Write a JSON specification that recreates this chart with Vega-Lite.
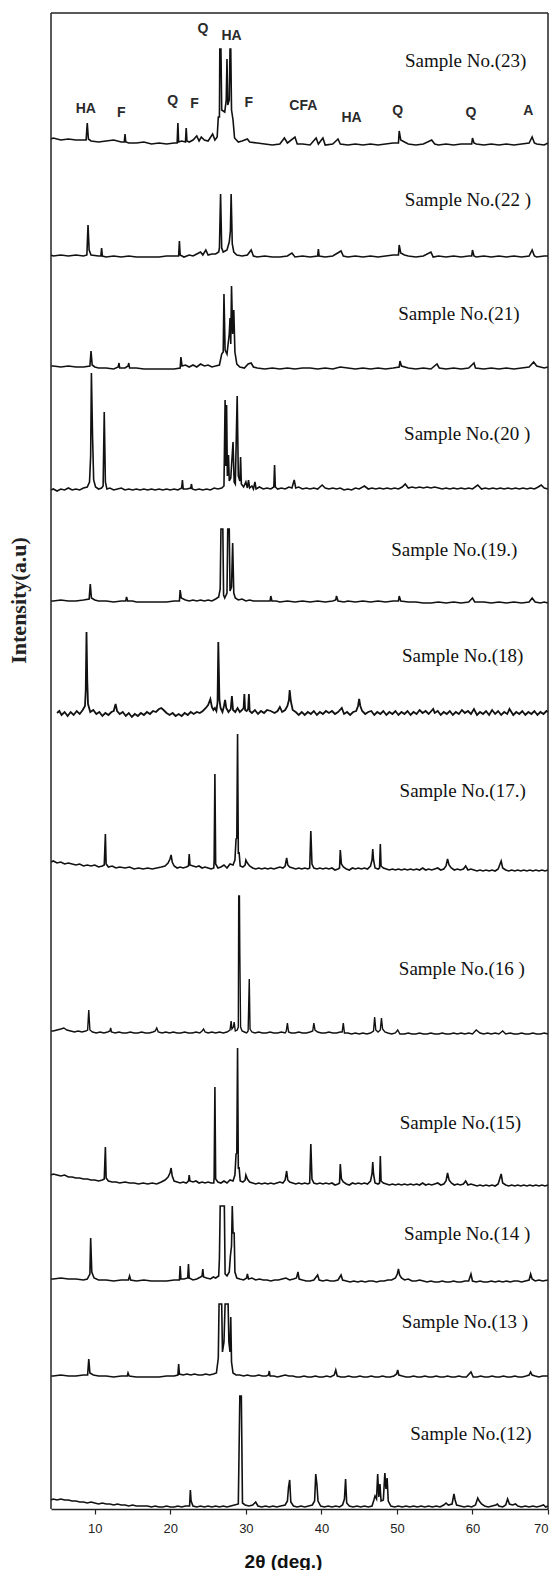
{
"$schema": "https://vega.github.io/schema/vega-lite/v6.json",
"padding": {"left": 7, "top": 12, "right": 2, "bottom": 1},
"spacing": 0,
"bounds": "flush",
"config": {"view": {"stroke": null}, "font": "Liberation Sans", "scale": {"zero": false}},
"datasets": {
"s23": [{"theta":4.2,"I":11},{"theta":4.5,"I":12},{"theta":5.5,"I":10},{"theta":6.5,"I":11},{"theta":7.5,"I":10},{"theta":8.5,"I":10},{"theta":8.85,"I":10},{"theta":9.0,"I":27},{"theta":9.15,"I":11},{"theta":9.5,"I":9},{"theta":10.5,"I":8},{"theta":11.5,"I":9},{"theta":12.5,"I":10},{"theta":13.5,"I":8},{"theta":13.9,"I":8},{"theta":14.0,"I":16},{"theta":14.1,"I":8},{"theta":14.5,"I":7},{"theta":15.5,"I":7},{"theta":16.5,"I":8},{"theta":17.5,"I":6},{"theta":18.5,"I":7},{"theta":19.5,"I":6},{"theta":20.5,"I":7},{"theta":20.9,"I":7},{"theta":21.0,"I":27},{"theta":21.1,"I":8},{"theta":21.5,"I":9},{"theta":22.0,"I":8},{"theta":22.1,"I":22},{"theta":22.2,"I":9},{"theta":22.5,"I":8},{"theta":23.0,"I":10},{"theta":23.5,"I":14},{"theta":23.8,"I":9},{"theta":24.1,"I":13},{"theta":24.5,"I":10},{"theta":25.0,"I":9},{"theta":25.6,"I":16},{"theta":25.9,"I":10},{"theta":26.2,"I":13},{"theta":26.35,"I":33},{"theta":26.5,"I":33},{"theta":26.55,"I":101},{"theta":26.7,"I":101},{"theta":26.8,"I":40},{"theta":27.2,"I":38},{"theta":27.4,"I":50},{"theta":27.5,"I":91},{"theta":27.6,"I":45},{"theta":27.8,"I":50},{"theta":27.9,"I":101},{"theta":28.0,"I":101},{"theta":28.1,"I":40},{"theta":28.3,"I":30},{"theta":28.5,"I":12},{"theta":29.0,"I":8},{"theta":29.5,"I":9},{"theta":30.2,"I":11},{"theta":30.5,"I":8},{"theta":31.5,"I":7},{"theta":32.5,"I":6},{"theta":33.5,"I":5},{"theta":34.5,"I":6},{"theta":35.1,"I":12},{"theta":35.5,"I":7},{"theta":36.5,"I":13},{"theta":36.8,"I":6},{"theta":37.5,"I":6},{"theta":38.5,"I":5},{"theta":39.3,"I":12},{"theta":39.6,"I":6},{"theta":40.2,"I":12},{"theta":40.5,"I":5},{"theta":41.5,"I":6},{"theta":42.2,"I":11},{"theta":42.5,"I":6},{"theta":43.5,"I":5},{"theta":44.5,"I":6},{"theta":45.5,"I":5},{"theta":46.5,"I":6},{"theta":47.5,"I":5},{"theta":48.5,"I":6},{"theta":49.5,"I":7},{"theta":50.2,"I":7},{"theta":50.3,"I":19},{"theta":50.5,"I":10},{"theta":51.0,"I":8},{"theta":51.5,"I":6},{"theta":52.5,"I":5},{"theta":53.5,"I":6},{"theta":54.6,"I":10},{"theta":55.0,"I":6},{"theta":55.5,"I":5},{"theta":56.5,"I":6},{"theta":57.5,"I":5},{"theta":58.5,"I":6},{"theta":59.5,"I":6},{"theta":59.9,"I":6},{"theta":60.0,"I":12},{"theta":60.2,"I":7},{"theta":60.5,"I":6},{"theta":61.5,"I":5},{"theta":62.5,"I":6},{"theta":63.5,"I":5},{"theta":64.5,"I":6},{"theta":65.5,"I":5},{"theta":66.5,"I":6},{"theta":67.5,"I":7},{"theta":67.9,"I":13},{"theta":68.2,"I":7},{"theta":68.5,"I":6},{"theta":69.5,"I":5},{"theta":70.0,"I":7}],
"s22": [{"theta":4.2,"I":7},{"theta":4.5,"I":6},{"theta":5.5,"I":7},{"theta":6.5,"I":6},{"theta":7.5,"I":7},{"theta":8.5,"I":6},{"theta":8.95,"I":7},{"theta":9.1,"I":37},{"theta":9.25,"I":12},{"theta":9.5,"I":7},{"theta":10.5,"I":6},{"theta":10.8,"I":6},{"theta":10.9,"I":14},{"theta":11.0,"I":6},{"theta":11.5,"I":5},{"theta":12.5,"I":6},{"theta":13.5,"I":5},{"theta":14.5,"I":6},{"theta":15.5,"I":5},{"theta":16.5,"I":5},{"theta":17.5,"I":5},{"theta":18.5,"I":5},{"theta":19.5,"I":6},{"theta":20.5,"I":6},{"theta":21.1,"I":6},{"theta":21.2,"I":21},{"theta":21.3,"I":7},{"theta":21.8,"I":5},{"theta":22.5,"I":7},{"theta":23.0,"I":6},{"theta":23.5,"I":8},{"theta":24.0,"I":10},{"theta":24.3,"I":7},{"theta":24.7,"I":12},{"theta":25.0,"I":7},{"theta":25.5,"I":8},{"theta":26.0,"I":8},{"theta":26.4,"I":10},{"theta":26.5,"I":14},{"theta":26.65,"I":68},{"theta":26.8,"I":14},{"theta":27.0,"I":10},{"theta":27.5,"I":12},{"theta":27.8,"I":20},{"theta":27.95,"I":31},{"theta":28.05,"I":68},{"theta":28.2,"I":18},{"theta":28.4,"I":10},{"theta":28.8,"I":7},{"theta":29.5,"I":6},{"theta":30.2,"I":7},{"theta":30.7,"I":12},{"theta":31.0,"I":6},{"theta":31.5,"I":5},{"theta":32.5,"I":6},{"theta":33.5,"I":5},{"theta":34.5,"I":5},{"theta":35.5,"I":6},{"theta":36.1,"I":9},{"theta":36.5,"I":5},{"theta":37.5,"I":6},{"theta":38.5,"I":5},{"theta":39.5,"I":6},{"theta":39.6,"I":13},{"theta":39.7,"I":6},{"theta":40.5,"I":5},{"theta":41.5,"I":6},{"theta":42.6,"I":11},{"theta":42.9,"I":6},{"theta":43.5,"I":5},{"theta":44.5,"I":6},{"theta":45.5,"I":5},{"theta":46.5,"I":6},{"theta":47.5,"I":5},{"theta":48.5,"I":6},{"theta":49.5,"I":7},{"theta":50.2,"I":7},{"theta":50.3,"I":17},{"theta":50.5,"I":9},{"theta":51.0,"I":7},{"theta":51.5,"I":6},{"theta":52.5,"I":5},{"theta":53.5,"I":6},{"theta":54.5,"I":10},{"theta":54.8,"I":5},{"theta":55.5,"I":6},{"theta":56.5,"I":5},{"theta":57.5,"I":6},{"theta":58.5,"I":5},{"theta":59.5,"I":6},{"theta":59.9,"I":6},{"theta":60.0,"I":12},{"theta":60.2,"I":6},{"theta":60.5,"I":5},{"theta":61.5,"I":6},{"theta":62.5,"I":5},{"theta":63.5,"I":6},{"theta":64.5,"I":5},{"theta":65.5,"I":6},{"theta":66.5,"I":5},{"theta":67.5,"I":6},{"theta":67.9,"I":12},{"theta":68.2,"I":6},{"theta":68.5,"I":5},{"theta":69.5,"I":6},{"theta":70.0,"I":6}],
"s21": [{"theta":4.2,"I":8},{"theta":4.5,"I":8},{"theta":5.5,"I":7},{"theta":6.5,"I":8},{"theta":7.5,"I":7},{"theta":8.5,"I":7},{"theta":9.35,"I":8},{"theta":9.5,"I":23},{"theta":9.65,"I":9},{"theta":10.0,"I":7},{"theta":10.5,"I":6},{"theta":11.5,"I":6},{"theta":12.5,"I":5},{"theta":13.1,"I":7},{"theta":13.2,"I":11},{"theta":13.3,"I":6},{"theta":14.0,"I":6},{"theta":14.4,"I":8},{"theta":14.5,"I":11},{"theta":14.6,"I":6},{"theta":15.5,"I":6},{"theta":16.5,"I":5},{"theta":17.5,"I":5},{"theta":18.5,"I":5},{"theta":19.5,"I":5},{"theta":20.5,"I":5},{"theta":21.3,"I":6},{"theta":21.4,"I":17},{"theta":21.55,"I":8},{"theta":22.0,"I":9},{"theta":22.5,"I":7},{"theta":23.0,"I":9},{"theta":23.5,"I":7},{"theta":24.0,"I":10},{"theta":24.5,"I":8},{"theta":25.0,"I":9},{"theta":25.5,"I":7},{"theta":26.0,"I":8},{"theta":26.5,"I":9},{"theta":26.8,"I":20},{"theta":27.0,"I":22},{"theta":27.1,"I":80},{"theta":27.25,"I":24},{"theta":27.5,"I":20},{"theta":27.8,"I":40},{"theta":27.9,"I":56},{"theta":28.0,"I":30},{"theta":28.1,"I":88},{"theta":28.25,"I":40},{"theta":28.4,"I":64},{"theta":28.55,"I":22},{"theta":28.8,"I":10},{"theta":29.2,"I":7},{"theta":29.8,"I":6},{"theta":30.3,"I":10},{"theta":30.7,"I":11},{"theta":31.0,"I":7},{"theta":31.5,"I":6},{"theta":32.5,"I":5},{"theta":33.5,"I":6},{"theta":34.5,"I":5},{"theta":35.5,"I":6},{"theta":36.5,"I":5},{"theta":37.5,"I":6},{"theta":38.5,"I":6},{"theta":39.5,"I":5},{"theta":40.5,"I":6},{"theta":41.5,"I":5},{"theta":42.5,"I":7},{"theta":43.5,"I":6},{"theta":44.5,"I":5},{"theta":45.5,"I":6},{"theta":46.5,"I":5},{"theta":47.5,"I":6},{"theta":48.5,"I":5},{"theta":49.5,"I":6},{"theta":50.3,"I":7},{"theta":50.4,"I":13},{"theta":50.6,"I":8},{"theta":51.5,"I":6},{"theta":52.5,"I":5},{"theta":53.5,"I":6},{"theta":54.5,"I":5},{"theta":55.3,"I":10},{"theta":55.6,"I":6},{"theta":56.5,"I":5},{"theta":57.5,"I":6},{"theta":58.5,"I":5},{"theta":59.5,"I":6},{"theta":60.2,"I":11},{"theta":60.4,"I":6},{"theta":61.5,"I":5},{"theta":62.5,"I":6},{"theta":63.5,"I":5},{"theta":64.5,"I":6},{"theta":65.5,"I":5},{"theta":66.5,"I":6},{"theta":67.5,"I":7},{"theta":68.1,"I":12},{"theta":68.5,"I":8},{"theta":69.5,"I":6},{"theta":70.0,"I":7}],
"s20": [{"theta":4.2,"I":6},{"theta":4.5,"I":7},{"theta":5.0,"I":5},{"theta":5.5,"I":7},{"theta":6.0,"I":6},{"theta":6.5,"I":8},{"theta":7.0,"I":6},{"theta":7.5,"I":7},{"theta":8.0,"I":6},{"theta":8.5,"I":8},{"theta":9.0,"I":9},{"theta":9.3,"I":14},{"theta":9.45,"I":40},{"theta":9.55,"I":123},{"theta":9.7,"I":60},{"theta":9.85,"I":16},{"theta":10.1,"I":9},{"theta":10.5,"I":7},{"theta":10.9,"I":8},{"theta":11.1,"I":10},{"theta":11.25,"I":84},{"theta":11.4,"I":14},{"theta":11.6,"I":7},{"theta":12.0,"I":8},{"theta":12.5,"I":6},{"theta":13.0,"I":7},{"theta":13.5,"I":8},{"theta":14.0,"I":6},{"theta":14.5,"I":7},{"theta":15.0,"I":6},{"theta":15.5,"I":7},{"theta":16.0,"I":6},{"theta":16.5,"I":7},{"theta":17.0,"I":6},{"theta":17.5,"I":7},{"theta":18.0,"I":6},{"theta":18.5,"I":7},{"theta":19.0,"I":6},{"theta":19.5,"I":7},{"theta":20.0,"I":6},{"theta":20.5,"I":7},{"theta":21.0,"I":6},{"theta":21.5,"I":8},{"theta":21.6,"I":16},{"theta":21.7,"I":7},{"theta":22.2,"I":7},{"theta":22.7,"I":8},{"theta":22.8,"I":12},{"theta":22.9,"I":7},{"theta":23.3,"I":6},{"theta":23.8,"I":7},{"theta":24.3,"I":6},{"theta":24.8,"I":7},{"theta":25.3,"I":6},{"theta":25.8,"I":8},{"theta":26.3,"I":7},{"theta":26.8,"I":8},{"theta":27.1,"I":10},{"theta":27.25,"I":96},{"theta":27.35,"I":30},{"theta":27.45,"I":91},{"theta":27.55,"I":20},{"theta":27.7,"I":41},{"theta":27.8,"I":15},{"theta":28.0,"I":18},{"theta":28.3,"I":54},{"theta":28.45,"I":14},{"theta":28.6,"I":12},{"theta":28.85,"I":100},{"theta":29.0,"I":20},{"theta":29.2,"I":15},{"theta":29.3,"I":39},{"theta":29.4,"I":12},{"theta":29.7,"I":9},{"theta":30.0,"I":14},{"theta":30.2,"I":8},{"theta":30.35,"I":16},{"theta":30.5,"I":8},{"theta":30.8,"I":10},{"theta":31.0,"I":7},{"theta":31.2,"I":14},{"theta":31.35,"I":7},{"theta":31.8,"I":9},{"theta":32.3,"I":7},{"theta":32.8,"I":8},{"theta":33.3,"I":7},{"theta":33.7,"I":9},{"theta":33.8,"I":31},{"theta":33.9,"I":9},{"theta":34.2,"I":7},{"theta":34.7,"I":8},{"theta":35.2,"I":7},{"theta":35.7,"I":9},{"theta":36.1,"I":8},{"theta":36.4,"I":16},{"theta":36.6,"I":8},{"theta":37.0,"I":9},{"theta":37.5,"I":7},{"theta":38.0,"I":8},{"theta":38.5,"I":7},{"theta":39.0,"I":8},{"theta":39.5,"I":7},{"theta":40.1,"I":11},{"theta":40.5,"I":8},{"theta":41.0,"I":7},{"theta":41.5,"I":8},{"theta":42.0,"I":7},{"theta":42.5,"I":8},{"theta":43.0,"I":6},{"theta":43.5,"I":7},{"theta":44.0,"I":6},{"theta":44.5,"I":8},{"theta":45.0,"I":7},{"theta":45.7,"I":10},{"theta":46.2,"I":7},{"theta":46.7,"I":8},{"theta":47.2,"I":7},{"theta":47.7,"I":8},{"theta":48.2,"I":7},{"theta":48.7,"I":8},{"theta":49.2,"I":7},{"theta":49.7,"I":8},{"theta":50.2,"I":7},{"theta":50.7,"I":9},{"theta":51.1,"I":12},{"theta":51.5,"I":8},{"theta":52.0,"I":9},{"theta":52.5,"I":8},{"theta":53.0,"I":9},{"theta":53.5,"I":8},{"theta":54.0,"I":9},{"theta":54.5,"I":8},{"theta":55.0,"I":9},{"theta":55.5,"I":8},{"theta":56.0,"I":7},{"theta":56.5,"I":8},{"theta":57.0,"I":7},{"theta":57.5,"I":8},{"theta":58.0,"I":7},{"theta":58.5,"I":8},{"theta":59.0,"I":7},{"theta":59.5,"I":8},{"theta":60.0,"I":7},{"theta":60.7,"I":11},{"theta":61.2,"I":7},{"theta":61.7,"I":8},{"theta":62.2,"I":7},{"theta":62.7,"I":8},{"theta":63.2,"I":7},{"theta":63.7,"I":8},{"theta":64.2,"I":7},{"theta":64.7,"I":8},{"theta":65.2,"I":7},{"theta":65.7,"I":8},{"theta":66.2,"I":7},{"theta":66.7,"I":8},{"theta":67.2,"I":7},{"theta":67.7,"I":8},{"theta":68.2,"I":7},{"theta":68.7,"I":9},{"theta":69.1,"I":11},{"theta":69.5,"I":8},{"theta":70.0,"I":7}],
"s19": [{"theta":4.2,"I":6},{"theta":4.5,"I":6},{"theta":5.5,"I":7},{"theta":6.5,"I":6},{"theta":7.5,"I":6},{"theta":8.5,"I":7},{"theta":9.25,"I":8},{"theta":9.4,"I":23},{"theta":9.55,"I":9},{"theta":10.0,"I":7},{"theta":10.5,"I":6},{"theta":11.5,"I":6},{"theta":12.5,"I":5},{"theta":13.5,"I":6},{"theta":14.1,"I":6},{"theta":14.2,"I":10},{"theta":14.35,"I":6},{"theta":15.0,"I":6},{"theta":15.5,"I":5},{"theta":16.5,"I":5},{"theta":17.5,"I":5},{"theta":18.5,"I":5},{"theta":19.5,"I":5},{"theta":20.5,"I":6},{"theta":21.2,"I":6},{"theta":21.3,"I":17},{"theta":21.45,"I":9},{"theta":22.0,"I":7},{"theta":22.5,"I":6},{"theta":23.0,"I":7},{"theta":23.5,"I":6},{"theta":24.0,"I":7},{"theta":24.5,"I":6},{"theta":25.0,"I":7},{"theta":25.5,"I":6},{"theta":26.0,"I":8},{"theta":26.4,"I":10},{"theta":26.6,"I":18},{"theta":26.7,"I":78},{"theta":26.95,"I":78},{"theta":27.05,"I":12},{"theta":27.2,"I":9},{"theta":27.5,"I":14},{"theta":27.6,"I":78},{"theta":27.8,"I":78},{"theta":27.9,"I":16},{"theta":28.1,"I":20},{"theta":28.25,"I":64},{"theta":28.4,"I":14},{"theta":28.6,"I":9},{"theta":29.0,"I":7},{"theta":29.5,"I":8},{"theta":30.0,"I":6},{"theta":30.5,"I":7},{"theta":31.0,"I":6},{"theta":31.5,"I":6},{"theta":32.5,"I":6},{"theta":33.2,"I":6},{"theta":33.3,"I":11},{"theta":33.45,"I":6},{"theta":34.0,"I":6},{"theta":34.5,"I":5},{"theta":35.5,"I":6},{"theta":36.5,"I":5},{"theta":37.5,"I":6},{"theta":38.5,"I":5},{"theta":39.5,"I":6},{"theta":40.5,"I":5},{"theta":41.5,"I":6},{"theta":41.9,"I":7},{"theta":42.0,"I":11},{"theta":42.2,"I":6},{"theta":43.0,"I":5},{"theta":43.5,"I":6},{"theta":44.5,"I":5},{"theta":45.5,"I":6},{"theta":46.5,"I":5},{"theta":47.5,"I":6},{"theta":48.5,"I":5},{"theta":49.5,"I":6},{"theta":50.2,"I":6},{"theta":50.3,"I":11},{"theta":50.5,"I":6},{"theta":51.5,"I":5},{"theta":52.5,"I":5},{"theta":53.5,"I":4},{"theta":54.5,"I":4},{"theta":55.5,"I":5},{"theta":56.5,"I":4},{"theta":57.5,"I":5},{"theta":58.5,"I":4},{"theta":59.5,"I":5},{"theta":60.0,"I":9},{"theta":60.3,"I":5},{"theta":61.5,"I":5},{"theta":62.5,"I":4},{"theta":63.5,"I":5},{"theta":64.5,"I":4},{"theta":65.5,"I":5},{"theta":66.5,"I":4},{"theta":67.5,"I":5},{"theta":67.9,"I":9},{"theta":68.3,"I":5},{"theta":69.0,"I":4},{"theta":69.5,"I":5},{"theta":70.0,"I":4}],
"s18": [{"theta":5.0,"I":7},{"theta":5.3,"I":9},{"theta":5.6,"I":5},{"theta":6.0,"I":8},{"theta":6.4,"I":4},{"theta":6.8,"I":8},{"theta":7.2,"I":5},{"theta":7.6,"I":9},{"theta":8.0,"I":6},{"theta":8.4,"I":10},{"theta":8.7,"I":14},{"theta":8.8,"I":30},{"theta":8.9,"I":88},{"theta":9.0,"I":40},{"theta":9.1,"I":16},{"theta":9.4,"I":8},{"theta":9.8,"I":10},{"theta":10.2,"I":6},{"theta":10.6,"I":8},{"theta":11.0,"I":4},{"theta":11.4,"I":7},{"theta":11.8,"I":5},{"theta":12.2,"I":8},{"theta":12.5,"I":9},{"theta":12.75,"I":16},{"theta":12.95,"I":9},{"theta":13.3,"I":6},{"theta":13.7,"I":8},{"theta":14.1,"I":4},{"theta":14.5,"I":7},{"theta":14.9,"I":3},{"theta":15.3,"I":6},{"theta":15.7,"I":4},{"theta":16.1,"I":7},{"theta":16.5,"I":5},{"theta":16.9,"I":8},{"theta":17.3,"I":6},{"theta":17.7,"I":9},{"theta":18.1,"I":8},{"theta":18.5,"I":11},{"theta":18.8,"I":12},{"theta":19.1,"I":10},{"theta":19.5,"I":7},{"theta":19.9,"I":5},{"theta":20.3,"I":7},{"theta":20.7,"I":4},{"theta":21.1,"I":6},{"theta":21.5,"I":4},{"theta":21.9,"I":7},{"theta":22.3,"I":5},{"theta":22.7,"I":8},{"theta":23.1,"I":6},{"theta":23.5,"I":8},{"theta":23.9,"I":7},{"theta":24.3,"I":9},{"theta":24.7,"I":12},{"theta":25.0,"I":15},{"theta":25.3,"I":21},{"theta":25.5,"I":13},{"theta":25.7,"I":10},{"theta":25.9,"I":12},{"theta":26.1,"I":9},{"theta":26.25,"I":18},{"theta":26.35,"I":78},{"theta":26.5,"I":20},{"theta":26.65,"I":12},{"theta":26.9,"I":8},{"theta":27.1,"I":14},{"theta":27.25,"I":20},{"theta":27.4,"I":12},{"theta":27.7,"I":8},{"theta":28.0,"I":11},{"theta":28.15,"I":24},{"theta":28.3,"I":10},{"theta":28.6,"I":8},{"theta":28.9,"I":12},{"theta":29.2,"I":8},{"theta":29.5,"I":10},{"theta":29.7,"I":12},{"theta":29.8,"I":26},{"theta":29.9,"I":10},{"theta":30.1,"I":9},{"theta":30.3,"I":11},{"theta":30.4,"I":26},{"theta":30.5,"I":9},{"theta":30.8,"I":7},{"theta":31.2,"I":10},{"theta":31.6,"I":6},{"theta":32.0,"I":9},{"theta":32.4,"I":7},{"theta":32.8,"I":10},{"theta":33.3,"I":9},{"theta":33.8,"I":7},{"theta":34.2,"I":9},{"theta":34.5,"I":13},{"theta":34.8,"I":8},{"theta":35.2,"I":10},{"theta":35.5,"I":14},{"theta":35.7,"I":20},{"theta":35.8,"I":30},{"theta":35.95,"I":19},{"theta":36.2,"I":10},{"theta":36.6,"I":8},{"theta":37.0,"I":5},{"theta":37.4,"I":8},{"theta":37.8,"I":5},{"theta":38.2,"I":8},{"theta":38.6,"I":6},{"theta":39.0,"I":9},{"theta":39.4,"I":5},{"theta":39.8,"I":8},{"theta":40.2,"I":6},{"theta":40.6,"I":9},{"theta":41.0,"I":7},{"theta":41.4,"I":9},{"theta":41.8,"I":6},{"theta":42.2,"I":8},{"theta":42.7,"I":12},{"theta":43.0,"I":6},{"theta":43.4,"I":8},{"theta":43.8,"I":5},{"theta":44.2,"I":8},{"theta":44.6,"I":9},{"theta":44.85,"I":14},{"theta":45.0,"I":21},{"theta":45.15,"I":14},{"theta":45.4,"I":9},{"theta":45.8,"I":6},{"theta":46.2,"I":8},{"theta":46.6,"I":9},{"theta":47.0,"I":5},{"theta":47.4,"I":8},{"theta":47.8,"I":6},{"theta":48.2,"I":9},{"theta":48.6,"I":5},{"theta":49.0,"I":8},{"theta":49.4,"I":6},{"theta":49.8,"I":9},{"theta":50.2,"I":5},{"theta":50.6,"I":8},{"theta":51.0,"I":6},{"theta":51.4,"I":9},{"theta":51.8,"I":5},{"theta":52.2,"I":8},{"theta":52.6,"I":6},{"theta":53.0,"I":10},{"theta":53.4,"I":7},{"theta":53.8,"I":9},{"theta":54.2,"I":6},{"theta":54.8,"I":11},{"theta":55.0,"I":7},{"theta":55.4,"I":9},{"theta":55.8,"I":5},{"theta":56.2,"I":8},{"theta":56.6,"I":6},{"theta":57.0,"I":9},{"theta":57.4,"I":5},{"theta":57.8,"I":8},{"theta":58.2,"I":6},{"theta":58.6,"I":10},{"theta":59.0,"I":7},{"theta":59.4,"I":9},{"theta":59.8,"I":6},{"theta":60.2,"I":11},{"theta":60.6,"I":5},{"theta":61.0,"I":8},{"theta":61.4,"I":6},{"theta":61.8,"I":9},{"theta":62.2,"I":5},{"theta":62.6,"I":10},{"theta":63.0,"I":6},{"theta":63.4,"I":9},{"theta":63.8,"I":5},{"theta":64.2,"I":8},{"theta":64.6,"I":6},{"theta":64.9,"I":11},{"theta":65.4,"I":5},{"theta":65.8,"I":8},{"theta":66.2,"I":6},{"theta":66.6,"I":9},{"theta":67.0,"I":5},{"theta":67.4,"I":8},{"theta":67.8,"I":6},{"theta":68.2,"I":9},{"theta":68.6,"I":5},{"theta":69.0,"I":8},{"theta":69.4,"I":6},{"theta":69.8,"I":9},{"theta":70.0,"I":8}],
"s17": [{"theta":4.2,"I":12},{"theta":4.5,"I":13},{"theta":5.0,"I":11},{"theta":5.5,"I":12},{"theta":6.0,"I":10},{"theta":6.5,"I":11},{"theta":7.0,"I":10},{"theta":7.5,"I":9},{"theta":8.0,"I":10},{"theta":8.5,"I":8},{"theta":9.0,"I":9},{"theta":9.5,"I":8},{"theta":10.0,"I":9},{"theta":10.5,"I":7},{"theta":11.0,"I":8},{"theta":11.25,"I":9},{"theta":11.4,"I":40},{"theta":11.5,"I":10},{"theta":11.8,"I":7},{"theta":12.3,"I":8},{"theta":12.8,"I":6},{"theta":13.3,"I":7},{"theta":14.0,"I":6},{"theta":14.6,"I":7},{"theta":15.2,"I":5},{"theta":15.8,"I":6},{"theta":16.4,"I":5},{"theta":17.0,"I":6},{"theta":17.6,"I":5},{"theta":18.2,"I":6},{"theta":18.8,"I":7},{"theta":19.3,"I":8},{"theta":19.7,"I":11},{"theta":19.95,"I":15},{"theta":20.1,"I":19},{"theta":20.25,"I":12},{"theta":20.5,"I":8},{"theta":20.9,"I":6},{"theta":21.3,"I":7},{"theta":21.7,"I":6},{"theta":22.1,"I":7},{"theta":22.4,"I":8},{"theta":22.5,"I":20},{"theta":22.6,"I":9},{"theta":23.0,"I":8},{"theta":23.4,"I":7},{"theta":23.8,"I":8},{"theta":24.2,"I":6},{"theta":24.6,"I":7},{"theta":25.0,"I":6},{"theta":25.4,"I":5},{"theta":25.75,"I":6},{"theta":25.8,"I":14},{"theta":25.9,"I":100},{"theta":26.0,"I":10},{"theta":26.3,"I":6},{"theta":26.7,"I":7},{"theta":27.1,"I":9},{"theta":27.5,"I":6},{"theta":27.9,"I":10},{"theta":28.3,"I":9},{"theta":28.55,"I":14},{"theta":28.7,"I":35},{"theta":28.8,"I":36},{"theta":28.9,"I":140},{"theta":29.0,"I":20},{"theta":29.1,"I":22},{"theta":29.25,"I":8},{"theta":29.6,"I":7},{"theta":29.9,"I":9},{"theta":30.0,"I":14},{"theta":30.2,"I":11},{"theta":30.5,"I":8},{"theta":30.9,"I":6},{"theta":31.3,"I":5},{"theta":31.7,"I":6},{"theta":32.1,"I":5},{"theta":32.5,"I":6},{"theta":32.9,"I":5},{"theta":33.3,"I":6},{"theta":33.7,"I":5},{"theta":34.1,"I":6},{"theta":34.5,"I":7},{"theta":34.9,"I":6},{"theta":35.2,"I":8},{"theta":35.4,"I":16},{"theta":35.55,"I":9},{"theta":35.8,"I":7},{"theta":36.2,"I":6},{"theta":36.6,"I":5},{"theta":37.0,"I":6},{"theta":37.4,"I":5},{"theta":37.8,"I":6},{"theta":38.2,"I":5},{"theta":38.45,"I":6},{"theta":38.6,"I":43},{"theta":38.75,"I":10},{"theta":39.0,"I":6},{"theta":39.4,"I":5},{"theta":39.8,"I":6},{"theta":40.2,"I":5},{"theta":40.6,"I":6},{"theta":41.0,"I":5},{"theta":41.4,"I":6},{"theta":41.8,"I":4},{"theta":42.2,"I":5},{"theta":42.4,"I":6},{"theta":42.5,"I":24},{"theta":42.65,"I":10},{"theta":42.9,"I":7},{"theta":43.3,"I":5},{"theta":43.7,"I":4},{"theta":44.1,"I":6},{"theta":44.5,"I":5},{"theta":44.9,"I":6},{"theta":45.3,"I":5},{"theta":45.7,"I":6},{"theta":46.1,"I":5},{"theta":46.5,"I":8},{"theta":46.7,"I":14},{"theta":46.8,"I":25},{"theta":46.9,"I":14},{"theta":47.1,"I":6},{"theta":47.5,"I":5},{"theta":47.7,"I":6},{"theta":47.8,"I":30},{"theta":47.9,"I":8},{"theta":48.2,"I":6},{"theta":48.6,"I":5},{"theta":49.0,"I":4},{"theta":49.4,"I":5},{"theta":49.8,"I":4},{"theta":50.2,"I":5},{"theta":50.6,"I":4},{"theta":51.0,"I":5},{"theta":51.4,"I":4},{"theta":51.8,"I":5},{"theta":52.2,"I":4},{"theta":52.6,"I":5},{"theta":53.0,"I":4},{"theta":53.4,"I":6},{"theta":53.8,"I":4},{"theta":54.2,"I":5},{"theta":54.6,"I":4},{"theta":55.0,"I":5},{"theta":55.4,"I":6},{"theta":55.8,"I":4},{"theta":56.2,"I":5},{"theta":56.5,"I":8},{"theta":56.7,"I":15},{"theta":56.9,"I":9},{"theta":57.2,"I":6},{"theta":57.6,"I":4},{"theta":58.0,"I":5},{"theta":58.4,"I":4},{"theta":58.8,"I":5},{"theta":59.1,"I":8},{"theta":59.4,"I":4},{"theta":59.8,"I":5},{"theta":60.2,"I":4},{"theta":60.6,"I":3},{"theta":61.0,"I":4},{"theta":61.4,"I":3},{"theta":61.8,"I":4},{"theta":62.2,"I":3},{"theta":62.6,"I":4},{"theta":63.0,"I":3},{"theta":63.4,"I":5},{"theta":63.8,"I":13},{"theta":64.0,"I":6},{"theta":64.4,"I":4},{"theta":64.8,"I":3},{"theta":65.2,"I":4},{"theta":65.6,"I":3},{"theta":66.0,"I":4},{"theta":66.4,"I":3},{"theta":66.8,"I":4},{"theta":67.2,"I":3},{"theta":67.6,"I":4},{"theta":68.0,"I":3},{"theta":68.4,"I":4},{"theta":68.8,"I":3},{"theta":69.2,"I":4},{"theta":69.6,"I":3},{"theta":70.0,"I":4}],
"s16": [{"theta":4.2,"I":8},{"theta":4.5,"I":8},{"theta":5.0,"I":9},{"theta":5.5,"I":10},{"theta":5.9,"I":11},{"theta":6.3,"I":9},{"theta":6.8,"I":8},{"theta":7.3,"I":7},{"theta":7.8,"I":8},{"theta":8.3,"I":7},{"theta":8.8,"I":8},{"theta":9.05,"I":9},{"theta":9.2,"I":29},{"theta":9.35,"I":9},{"theta":9.7,"I":7},{"theta":10.2,"I":6},{"theta":10.7,"I":7},{"theta":11.2,"I":6},{"theta":11.7,"I":7},{"theta":12.0,"I":8},{"theta":12.1,"I":11},{"theta":12.2,"I":7},{"theta":12.7,"I":6},{"theta":13.2,"I":7},{"theta":13.7,"I":6},{"theta":14.2,"I":6},{"theta":14.7,"I":7},{"theta":15.2,"I":6},{"theta":15.7,"I":6},{"theta":16.2,"I":7},{"theta":16.7,"I":6},{"theta":17.2,"I":6},{"theta":17.7,"I":7},{"theta":18.0,"I":8},{"theta":18.2,"I":11},{"theta":18.4,"I":7},{"theta":18.9,"I":6},{"theta":19.4,"I":7},{"theta":19.9,"I":6},{"theta":20.4,"I":7},{"theta":20.9,"I":6},{"theta":21.4,"I":6},{"theta":21.9,"I":7},{"theta":22.4,"I":6},{"theta":22.9,"I":6},{"theta":23.4,"I":7},{"theta":23.9,"I":6},{"theta":24.2,"I":8},{"theta":24.4,"I":10},{"theta":24.6,"I":7},{"theta":25.0,"I":6},{"theta":25.5,"I":7},{"theta":26.0,"I":6},{"theta":26.5,"I":7},{"theta":27.0,"I":6},{"theta":27.5,"I":7},{"theta":27.9,"I":9},{"theta":28.05,"I":18},{"theta":28.15,"I":10},{"theta":28.35,"I":12},{"theta":28.45,"I":17},{"theta":28.6,"I":8},{"theta":28.85,"I":9},{"theta":29.0,"I":12},{"theta":29.05,"I":143},{"theta":29.15,"I":143},{"theta":29.2,"I":85},{"theta":29.3,"I":12},{"theta":29.5,"I":8},{"theta":29.8,"I":7},{"theta":30.1,"I":6},{"theta":30.3,"I":8},{"theta":30.45,"I":60},{"theta":30.55,"I":10},{"theta":30.8,"I":7},{"theta":31.2,"I":6},{"theta":31.7,"I":7},{"theta":32.2,"I":6},{"theta":32.7,"I":6},{"theta":33.2,"I":7},{"theta":33.7,"I":6},{"theta":34.2,"I":6},{"theta":34.7,"I":7},{"theta":35.2,"I":6},{"theta":35.35,"I":8},{"theta":35.5,"I":16},{"theta":35.65,"I":7},{"theta":36.0,"I":6},{"theta":36.5,"I":6},{"theta":37.0,"I":7},{"theta":37.5,"I":6},{"theta":38.0,"I":6},{"theta":38.5,"I":7},{"theta":38.85,"I":8},{"theta":39.0,"I":16},{"theta":39.15,"I":9},{"theta":39.5,"I":7},{"theta":40.0,"I":6},{"theta":40.5,"I":6},{"theta":41.0,"I":7},{"theta":41.5,"I":6},{"theta":42.0,"I":6},{"theta":42.5,"I":7},{"theta":42.75,"I":7},{"theta":42.9,"I":16},{"theta":43.05,"I":6},{"theta":43.5,"I":6},{"theta":44.0,"I":5},{"theta":44.5,"I":6},{"theta":45.0,"I":5},{"theta":45.5,"I":6},{"theta":46.0,"I":5},{"theta":46.5,"I":6},{"theta":46.9,"I":8},{"theta":47.05,"I":22},{"theta":47.2,"I":9},{"theta":47.5,"I":7},{"theta":47.8,"I":9},{"theta":47.95,"I":21},{"theta":48.1,"I":10},{"theta":48.4,"I":7},{"theta":48.8,"I":6},{"theta":49.3,"I":5},{"theta":49.8,"I":6},{"theta":50.1,"I":9},{"theta":50.4,"I":5},{"theta":51.0,"I":5},{"theta":51.5,"I":6},{"theta":52.0,"I":5},{"theta":52.5,"I":5},{"theta":53.0,"I":6},{"theta":53.5,"I":5},{"theta":54.0,"I":5},{"theta":54.5,"I":6},{"theta":55.0,"I":5},{"theta":55.5,"I":5},{"theta":56.0,"I":6},{"theta":56.5,"I":5},{"theta":57.0,"I":5},{"theta":57.5,"I":6},{"theta":58.0,"I":5},{"theta":58.5,"I":6},{"theta":59.0,"I":5},{"theta":59.5,"I":6},{"theta":60.0,"I":5},{"theta":60.5,"I":9},{"theta":61.0,"I":6},{"theta":61.5,"I":5},{"theta":62.0,"I":6},{"theta":62.5,"I":5},{"theta":63.0,"I":6},{"theta":63.5,"I":5},{"theta":64.0,"I":8},{"theta":64.4,"I":5},{"theta":65.0,"I":6},{"theta":65.5,"I":5},{"theta":66.0,"I":5},{"theta":66.5,"I":6},{"theta":67.0,"I":5},{"theta":67.5,"I":5},{"theta":68.0,"I":6},{"theta":68.5,"I":5},{"theta":69.0,"I":5},{"theta":69.5,"I":6},{"theta":70.0,"I":5}],
"s15": [{"theta":4.2,"I":14},{"theta":4.5,"I":15},{"theta":5.0,"I":14},{"theta":5.5,"I":13},{"theta":6.0,"I":14},{"theta":6.5,"I":12},{"theta":7.0,"I":12},{"theta":7.5,"I":11},{"theta":8.0,"I":11},{"theta":8.5,"I":10},{"theta":9.0,"I":10},{"theta":9.5,"I":9},{"theta":10.0,"I":9},{"theta":10.5,"I":8},{"theta":11.0,"I":9},{"theta":11.25,"I":10},{"theta":11.4,"I":42},{"theta":11.5,"I":11},{"theta":11.8,"I":8},{"theta":12.3,"I":7},{"theta":12.8,"I":7},{"theta":13.3,"I":6},{"theta":14.0,"I":7},{"theta":14.6,"I":6},{"theta":15.2,"I":6},{"theta":15.8,"I":5},{"theta":16.4,"I":6},{"theta":17.0,"I":5},{"theta":17.6,"I":6},{"theta":18.2,"I":5},{"theta":18.8,"I":7},{"theta":19.3,"I":9},{"theta":19.7,"I":12},{"theta":19.95,"I":16},{"theta":20.1,"I":21},{"theta":20.25,"I":13},{"theta":20.5,"I":8},{"theta":20.9,"I":7},{"theta":21.3,"I":6},{"theta":21.7,"I":7},{"theta":22.1,"I":6},{"theta":22.4,"I":8},{"theta":22.5,"I":14},{"theta":22.6,"I":8},{"theta":23.0,"I":7},{"theta":23.4,"I":8},{"theta":23.8,"I":6},{"theta":24.2,"I":7},{"theta":24.6,"I":6},{"theta":25.0,"I":7},{"theta":25.4,"I":6},{"theta":25.75,"I":6},{"theta":25.8,"I":12},{"theta":25.9,"I":102},{"theta":26.0,"I":10},{"theta":26.3,"I":7},{"theta":26.7,"I":6},{"theta":27.1,"I":8},{"theta":27.5,"I":6},{"theta":27.9,"I":9},{"theta":28.3,"I":8},{"theta":28.55,"I":14},{"theta":28.7,"I":35},{"theta":28.8,"I":36},{"theta":28.9,"I":141},{"theta":29.0,"I":20},{"theta":29.1,"I":22},{"theta":29.25,"I":8},{"theta":29.6,"I":7},{"theta":29.9,"I":9},{"theta":30.0,"I":14},{"theta":30.2,"I":10},{"theta":30.5,"I":7},{"theta":30.9,"I":6},{"theta":31.3,"I":5},{"theta":31.7,"I":6},{"theta":32.1,"I":5},{"theta":32.5,"I":6},{"theta":32.9,"I":5},{"theta":33.3,"I":6},{"theta":33.7,"I":5},{"theta":34.1,"I":6},{"theta":34.5,"I":7},{"theta":34.9,"I":6},{"theta":35.2,"I":9},{"theta":35.4,"I":18},{"theta":35.55,"I":9},{"theta":35.8,"I":7},{"theta":36.2,"I":6},{"theta":36.6,"I":5},{"theta":37.0,"I":6},{"theta":37.4,"I":5},{"theta":37.8,"I":6},{"theta":38.2,"I":5},{"theta":38.45,"I":6},{"theta":38.6,"I":45},{"theta":38.75,"I":10},{"theta":39.0,"I":6},{"theta":39.4,"I":5},{"theta":39.8,"I":6},{"theta":40.2,"I":5},{"theta":40.6,"I":6},{"theta":41.0,"I":5},{"theta":41.4,"I":6},{"theta":41.8,"I":4},{"theta":42.2,"I":5},{"theta":42.4,"I":6},{"theta":42.5,"I":25},{"theta":42.65,"I":10},{"theta":42.9,"I":7},{"theta":43.3,"I":5},{"theta":43.7,"I":4},{"theta":44.1,"I":6},{"theta":44.5,"I":5},{"theta":44.9,"I":6},{"theta":45.3,"I":5},{"theta":45.7,"I":6},{"theta":46.1,"I":5},{"theta":46.5,"I":8},{"theta":46.7,"I":15},{"theta":46.8,"I":27},{"theta":46.9,"I":15},{"theta":47.1,"I":6},{"theta":47.5,"I":5},{"theta":47.7,"I":6},{"theta":47.8,"I":33},{"theta":47.9,"I":8},{"theta":48.2,"I":6},{"theta":48.6,"I":5},{"theta":49.0,"I":4},{"theta":49.4,"I":5},{"theta":49.8,"I":4},{"theta":50.2,"I":5},{"theta":50.6,"I":4},{"theta":51.0,"I":5},{"theta":51.4,"I":4},{"theta":51.8,"I":5},{"theta":52.2,"I":4},{"theta":52.6,"I":5},{"theta":53.0,"I":4},{"theta":53.4,"I":6},{"theta":53.8,"I":4},{"theta":54.2,"I":5},{"theta":54.6,"I":4},{"theta":55.0,"I":5},{"theta":55.4,"I":6},{"theta":55.8,"I":4},{"theta":56.2,"I":5},{"theta":56.5,"I":8},{"theta":56.7,"I":16},{"theta":56.9,"I":9},{"theta":57.2,"I":6},{"theta":57.6,"I":4},{"theta":58.0,"I":5},{"theta":58.4,"I":4},{"theta":58.8,"I":5},{"theta":59.1,"I":8},{"theta":59.4,"I":4},{"theta":59.8,"I":5},{"theta":60.2,"I":4},{"theta":60.6,"I":3},{"theta":61.0,"I":4},{"theta":61.4,"I":3},{"theta":61.8,"I":4},{"theta":62.2,"I":3},{"theta":62.6,"I":4},{"theta":63.0,"I":3},{"theta":63.4,"I":5},{"theta":63.8,"I":15},{"theta":64.0,"I":6},{"theta":64.4,"I":4},{"theta":64.8,"I":3},{"theta":65.2,"I":4},{"theta":65.6,"I":3},{"theta":66.0,"I":4},{"theta":66.4,"I":3},{"theta":66.8,"I":4},{"theta":67.2,"I":3},{"theta":67.6,"I":4},{"theta":68.0,"I":3},{"theta":68.4,"I":4},{"theta":68.8,"I":3},{"theta":69.2,"I":4},{"theta":69.6,"I":3},{"theta":70.0,"I":4}],
"s14": [{"theta":4.2,"I":7},{"theta":4.5,"I":7},{"theta":5.5,"I":8},{"theta":6.5,"I":7},{"theta":7.5,"I":7},{"theta":8.5,"I":6},{"theta":9.0,"I":7},{"theta":9.35,"I":12},{"theta":9.45,"I":48},{"theta":9.6,"I":14},{"theta":9.9,"I":8},{"theta":10.5,"I":6},{"theta":11.5,"I":6},{"theta":12.5,"I":5},{"theta":13.5,"I":6},{"theta":14.45,"I":6},{"theta":14.6,"I":10},{"theta":14.75,"I":6},{"theta":15.5,"I":5},{"theta":16.5,"I":6},{"theta":17.5,"I":5},{"theta":18.5,"I":5},{"theta":19.5,"I":5},{"theta":20.5,"I":6},{"theta":21.2,"I":6},{"theta":21.3,"I":20},{"theta":21.4,"I":7},{"theta":21.8,"I":7},{"theta":22.3,"I":8},{"theta":22.4,"I":22},{"theta":22.5,"I":8},{"theta":23.0,"I":6},{"theta":23.5,"I":7},{"theta":24.0,"I":9},{"theta":24.2,"I":10},{"theta":24.3,"I":17},{"theta":24.4,"I":9},{"theta":24.8,"I":8},{"theta":25.3,"I":7},{"theta":25.7,"I":9},{"theta":26.0,"I":8},{"theta":26.4,"I":10},{"theta":26.5,"I":28},{"theta":26.6,"I":80},{"theta":27.15,"I":80},{"theta":27.25,"I":12},{"theta":27.5,"I":10},{"theta":27.8,"I":14},{"theta":27.95,"I":30},{"theta":28.1,"I":40},{"theta":28.2,"I":80},{"theta":28.3,"I":53},{"theta":28.45,"I":53},{"theta":28.55,"I":14},{"theta":28.8,"I":8},{"theta":29.2,"I":7},{"theta":29.7,"I":6},{"theta":30.1,"I":8},{"theta":30.2,"I":12},{"theta":30.35,"I":7},{"theta":30.8,"I":8},{"theta":31.3,"I":6},{"theta":31.8,"I":7},{"theta":32.3,"I":6},{"theta":32.8,"I":6},{"theta":33.3,"I":5},{"theta":33.8,"I":6},{"theta":34.3,"I":6},{"theta":34.8,"I":7},{"theta":35.3,"I":8},{"theta":35.8,"I":6},{"theta":36.3,"I":7},{"theta":36.7,"I":8},{"theta":36.9,"I":14},{"theta":37.05,"I":7},{"theta":37.5,"I":6},{"theta":38.0,"I":5},{"theta":38.5,"I":5},{"theta":39.0,"I":6},{"theta":39.5,"I":11},{"theta":39.7,"I":6},{"theta":40.2,"I":5},{"theta":40.7,"I":6},{"theta":41.2,"I":5},{"theta":41.7,"I":5},{"theta":42.2,"I":6},{"theta":42.6,"I":11},{"theta":42.8,"I":6},{"theta":43.3,"I":5},{"theta":43.8,"I":4},{"theta":44.3,"I":5},{"theta":44.8,"I":4},{"theta":45.3,"I":5},{"theta":45.8,"I":4},{"theta":46.3,"I":5},{"theta":46.8,"I":5},{"theta":47.3,"I":4},{"theta":47.8,"I":5},{"theta":48.3,"I":5},{"theta":48.8,"I":6},{"theta":49.3,"I":6},{"theta":49.8,"I":8},{"theta":50.05,"I":12},{"theta":50.2,"I":17},{"theta":50.35,"I":11},{"theta":50.6,"I":8},{"theta":51.0,"I":6},{"theta":51.5,"I":7},{"theta":52.0,"I":5},{"theta":52.5,"I":5},{"theta":53.0,"I":6},{"theta":53.5,"I":5},{"theta":54.0,"I":4},{"theta":54.5,"I":5},{"theta":55.0,"I":4},{"theta":55.5,"I":4},{"theta":56.0,"I":5},{"theta":56.5,"I":4},{"theta":57.0,"I":4},{"theta":57.5,"I":5},{"theta":58.0,"I":4},{"theta":58.5,"I":4},{"theta":59.0,"I":5},{"theta":59.5,"I":5},{"theta":59.8,"I":12},{"theta":60.0,"I":5},{"theta":60.5,"I":4},{"theta":61.0,"I":5},{"theta":61.5,"I":4},{"theta":62.0,"I":4},{"theta":62.5,"I":5},{"theta":63.0,"I":4},{"theta":63.5,"I":5},{"theta":64.0,"I":4},{"theta":64.5,"I":5},{"theta":65.0,"I":4},{"theta":65.5,"I":5},{"theta":66.0,"I":5},{"theta":66.5,"I":4},{"theta":67.0,"I":5},{"theta":67.5,"I":6},{"theta":67.7,"I":12},{"theta":67.9,"I":7},{"theta":68.3,"I":5},{"theta":68.8,"I":6},{"theta":69.3,"I":5},{"theta":70.0,"I":6}],
"s13": [{"theta":4.2,"I":6},{"theta":4.5,"I":6},{"theta":5.5,"I":7},{"theta":6.5,"I":6},{"theta":7.5,"I":6},{"theta":8.5,"I":7},{"theta":9.05,"I":7},{"theta":9.2,"I":23},{"theta":9.35,"I":9},{"theta":9.8,"I":7},{"theta":10.5,"I":6},{"theta":11.5,"I":6},{"theta":12.5,"I":5},{"theta":13.5,"I":6},{"theta":14.3,"I":6},{"theta":14.4,"I":9},{"theta":14.55,"I":6},{"theta":15.5,"I":5},{"theta":16.5,"I":5},{"theta":17.5,"I":5},{"theta":18.5,"I":5},{"theta":19.5,"I":6},{"theta":20.5,"I":6},{"theta":21.0,"I":7},{"theta":21.1,"I":18},{"theta":21.2,"I":8},{"theta":21.7,"I":7},{"theta":22.2,"I":8},{"theta":22.7,"I":7},{"theta":23.2,"I":8},{"theta":23.7,"I":7},{"theta":24.2,"I":7},{"theta":24.7,"I":8},{"theta":25.2,"I":7},{"theta":25.7,"I":8},{"theta":26.1,"I":9},{"theta":26.35,"I":24},{"theta":26.45,"I":78},{"theta":26.8,"I":78},{"theta":26.9,"I":30},{"theta":27.1,"I":40},{"theta":27.25,"I":78},{"theta":27.65,"I":78},{"theta":27.75,"I":40},{"theta":27.9,"I":30},{"theta":28.0,"I":65},{"theta":28.1,"I":20},{"theta":28.3,"I":9},{"theta":28.7,"I":7},{"theta":29.2,"I":7},{"theta":29.7,"I":6},{"theta":30.2,"I":7},{"theta":30.7,"I":6},{"theta":31.2,"I":6},{"theta":31.7,"I":7},{"theta":32.2,"I":6},{"theta":32.7,"I":6},{"theta":33.0,"I":7},{"theta":33.1,"I":11},{"theta":33.2,"I":6},{"theta":33.7,"I":6},{"theta":34.2,"I":5},{"theta":34.7,"I":6},{"theta":35.2,"I":7},{"theta":35.7,"I":6},{"theta":36.2,"I":6},{"theta":36.7,"I":5},{"theta":37.2,"I":5},{"theta":37.7,"I":6},{"theta":38.2,"I":5},{"theta":38.7,"I":5},{"theta":39.2,"I":6},{"theta":39.7,"I":5},{"theta":40.2,"I":5},{"theta":40.7,"I":6},{"theta":41.2,"I":5},{"theta":41.7,"I":7},{"theta":41.9,"I":12},{"theta":42.1,"I":6},{"theta":42.6,"I":5},{"theta":43.1,"I":5},{"theta":43.6,"I":6},{"theta":44.1,"I":5},{"theta":44.6,"I":5},{"theta":45.1,"I":6},{"theta":45.6,"I":5},{"theta":46.1,"I":5},{"theta":46.6,"I":6},{"theta":47.1,"I":5},{"theta":47.6,"I":5},{"theta":48.1,"I":6},{"theta":48.6,"I":5},{"theta":49.1,"I":5},{"theta":49.6,"I":6},{"theta":49.95,"I":8},{"theta":50.1,"I":12},{"theta":50.25,"I":7},{"theta":50.7,"I":6},{"theta":51.2,"I":5},{"theta":51.7,"I":5},{"theta":52.2,"I":6},{"theta":52.7,"I":5},{"theta":53.2,"I":5},{"theta":53.7,"I":6},{"theta":54.2,"I":5},{"theta":54.7,"I":5},{"theta":55.2,"I":6},{"theta":55.7,"I":5},{"theta":56.2,"I":5},{"theta":56.7,"I":6},{"theta":57.2,"I":5},{"theta":57.7,"I":5},{"theta":58.2,"I":6},{"theta":58.7,"I":5},{"theta":59.2,"I":5},{"theta":59.8,"I":10},{"theta":60.1,"I":5},{"theta":60.6,"I":5},{"theta":61.1,"I":6},{"theta":61.6,"I":5},{"theta":62.1,"I":5},{"theta":62.6,"I":6},{"theta":63.1,"I":5},{"theta":63.6,"I":5},{"theta":64.1,"I":6},{"theta":64.6,"I":5},{"theta":65.1,"I":5},{"theta":65.6,"I":6},{"theta":66.1,"I":5},{"theta":66.6,"I":5},{"theta":67.1,"I":6},{"theta":67.5,"I":7},{"theta":67.7,"I":10},{"theta":67.9,"I":7},{"theta":68.3,"I":6},{"theta":68.8,"I":5},{"theta":69.3,"I":6},{"theta":70.0,"I":6}],
"s12": [{"theta":4.2,"I":9},{"theta":4.5,"I":10},{"theta":5.0,"I":9},{"theta":5.5,"I":10},{"theta":6.0,"I":9},{"theta":6.5,"I":9},{"theta":7.0,"I":8},{"theta":7.5,"I":8},{"theta":8.0,"I":7},{"theta":8.5,"I":7},{"theta":9.0,"I":6},{"theta":9.5,"I":7},{"theta":10.0,"I":6},{"theta":10.5,"I":5},{"theta":11.0,"I":6},{"theta":11.5,"I":5},{"theta":12.0,"I":5},{"theta":12.5,"I":4},{"theta":13.0,"I":5},{"theta":13.5,"I":4},{"theta":14.0,"I":4},{"theta":14.5,"I":3},{"theta":15.0,"I":4},{"theta":15.5,"I":3},{"theta":16.0,"I":3},{"theta":16.5,"I":3},{"theta":17.0,"I":3},{"theta":17.5,"I":2},{"theta":18.0,"I":3},{"theta":18.5,"I":2},{"theta":19.0,"I":2},{"theta":19.5,"I":3},{"theta":20.0,"I":2},{"theta":20.5,"I":2},{"theta":21.0,"I":3},{"theta":21.5,"I":2},{"theta":22.0,"I":3},{"theta":22.55,"I":3},{"theta":22.65,"I":19},{"theta":22.75,"I":8},{"theta":23.0,"I":3},{"theta":23.5,"I":2},{"theta":24.0,"I":3},{"theta":24.5,"I":2},{"theta":25.0,"I":3},{"theta":25.5,"I":2},{"theta":26.0,"I":3},{"theta":26.5,"I":2},{"theta":27.0,"I":3},{"theta":27.5,"I":2},{"theta":28.0,"I":3},{"theta":28.5,"I":4},{"theta":29.0,"I":5},{"theta":29.2,"I":113},{"theta":29.4,"I":113},{"theta":29.55,"I":6},{"theta":29.9,"I":4},{"theta":30.4,"I":3},{"theta":30.9,"I":4},{"theta":31.3,"I":7},{"theta":31.6,"I":3},{"theta":32.1,"I":2},{"theta":32.6,"I":3},{"theta":33.1,"I":2},{"theta":33.6,"I":3},{"theta":34.1,"I":2},{"theta":34.6,"I":3},{"theta":35.2,"I":4},{"theta":35.5,"I":8},{"theta":35.65,"I":22},{"theta":35.8,"I":29},{"theta":35.95,"I":7},{"theta":36.3,"I":3},{"theta":36.8,"I":2},{"theta":37.3,"I":3},{"theta":37.8,"I":2},{"theta":38.3,"I":3},{"theta":38.8,"I":4},{"theta":39.1,"I":8},{"theta":39.25,"I":35},{"theta":39.4,"I":25},{"theta":39.55,"I":8},{"theta":39.9,"I":3},{"theta":40.4,"I":2},{"theta":40.9,"I":3},{"theta":41.4,"I":2},{"theta":41.9,"I":3},{"theta":42.4,"I":2},{"theta":42.8,"I":4},{"theta":43.05,"I":10},{"theta":43.2,"I":30},{"theta":43.35,"I":6},{"theta":43.7,"I":3},{"theta":44.2,"I":2},{"theta":44.7,"I":3},{"theta":45.2,"I":2},{"theta":45.7,"I":3},{"theta":46.2,"I":2},{"theta":46.7,"I":3},{"theta":46.95,"I":9},{"theta":47.1,"I":13},{"theta":47.3,"I":10},{"theta":47.45,"I":35},{"theta":47.6,"I":12},{"theta":47.75,"I":25},{"theta":47.9,"I":8},{"theta":48.2,"I":9},{"theta":48.4,"I":36},{"theta":48.55,"I":20},{"theta":48.7,"I":31},{"theta":48.85,"I":8},{"theta":49.2,"I":3},{"theta":49.7,"I":2},{"theta":50.2,"I":3},{"theta":50.7,"I":2},{"theta":51.2,"I":3},{"theta":51.7,"I":2},{"theta":52.2,"I":3},{"theta":52.7,"I":2},{"theta":53.2,"I":3},{"theta":53.7,"I":2},{"theta":54.2,"I":3},{"theta":54.7,"I":2},{"theta":55.2,"I":3},{"theta":55.7,"I":2},{"theta":56.2,"I":4},{"theta":56.5,"I":6},{"theta":56.8,"I":4},{"theta":57.3,"I":5},{"theta":57.55,"I":15},{"theta":57.7,"I":9},{"theta":57.9,"I":4},{"theta":58.4,"I":3},{"theta":58.9,"I":2},{"theta":59.4,"I":3},{"theta":59.9,"I":2},{"theta":60.4,"I":4},{"theta":60.7,"I":11},{"theta":60.9,"I":8},{"theta":61.2,"I":5},{"theta":61.6,"I":3},{"theta":62.1,"I":2},{"theta":62.6,"I":3},{"theta":63.1,"I":4},{"theta":63.3,"I":5},{"theta":63.5,"I":3},{"theta":64.0,"I":2},{"theta":64.4,"I":4},{"theta":64.65,"I":10},{"theta":64.9,"I":5},{"theta":65.3,"I":4},{"theta":65.7,"I":5},{"theta":66.0,"I":3},{"theta":66.5,"I":2},{"theta":67.0,"I":3},{"theta":67.5,"I":2},{"theta":68.0,"I":3},{"theta":68.5,"I":2},{"theta":69.0,"I":3},{"theta":69.4,"I":4},{"theta":69.7,"I":2},{"theta":70.0,"I":3}]
},
"vconcat": [
{"width": 497, "height": 137, "layer": [
 {"data": {"name": "s23"}, "mark": {"type": "line", "color": "#111", "strokeWidth": 1.6}, "encoding": {"x": {"field": "theta", "type": "quantitative", "scale": {"domain": [4.2, 70], "zero": false, "nice": false}, "axis": null}, "y": {"field": "I", "type": "quantitative", "scale": {"domain": [0, 137], "nice": false}, "axis": null}}},
 {"data": {"values": [{}]}, "mark": {"type": "text", "font": "Liberation Serif", "fontSize": 19, "color": "#111"}, "encoding": {"x": {"datum": 59.1, "type": "quantitative", "scale": {"domain": [4.2, 70], "zero": false, "nice": false}}, "y": {"datum": 89, "type": "quantitative", "scale": {"domain": [0, 137], "nice": false}}, "text": {"value": "Sample No.(23)"}}},
 {"data": {"values": [{"phase": "HA", "pos": 8.8, "lev": 41}, {"phase": "F", "pos": 13.5, "lev": 37}, {"phase": "Q", "pos": 20.3, "lev": 49}, {"phase": "F", "pos": 23.2, "lev": 46}, {"phase": "Q", "pos": 24.3, "lev": 121}, {"phase": "HA", "pos": 28.1, "lev": 114}, {"phase": "F", "pos": 30.4, "lev": 47}, {"phase": "CFA", "pos": 37.6, "lev": 44}, {"phase": "HA", "pos": 44.0, "lev": 32}, {"phase": "Q", "pos": 50.1, "lev": 39}, {"phase": "Q", "pos": 59.8, "lev": 37}, {"phase": "A", "pos": 67.4, "lev": 39}]}, "mark": {"type": "text", "font": "Liberation Sans", "fontSize": 14, "fontWeight": "bold", "color": "#2a2a2a"}, "encoding": {"x": {"field": "pos", "type": "quantitative", "scale": {"domain": [4.2, 70], "zero": false, "nice": false}}, "y": {"field": "lev", "type": "quantitative", "scale": {"domain": [0, 137], "nice": false}}, "text": {"field": "phase"}}},
 {"data": {"values": [{}]}, "mark": {"type": "rule", "color": "#222", "strokeWidth": 1.5}, "encoding": {"x": {"datum": 4.2, "type": "quantitative", "scale": {"domain": [4.2, 70], "zero": false, "nice": false}}}},
 {"data": {"values": [{}]}, "mark": {"type": "rule", "color": "#222", "strokeWidth": 1.5}, "encoding": {"x": {"datum": 70, "type": "quantitative", "scale": {"domain": [4.2, 70], "zero": false, "nice": false}}}},
 {"data": {"values": [{}]}, "mark": {"type": "rule", "color": "#222", "strokeWidth": 1.5}, "encoding": {"y": {"datum": 137, "type": "quantitative", "scale": {"domain": [0, 137], "nice": false}}}}
]},
{"width": 497, "height": 112, "layer": [
 {"data": {"name": "s22"}, "mark": {"type": "line", "color": "#111", "strokeWidth": 1.6}, "encoding": {"x": {"field": "theta", "type": "quantitative", "scale": {"domain": [4.2, 70], "zero": false, "nice": false}, "axis": null}, "y": {"field": "I", "type": "quantitative", "scale": {"domain": [0, 112], "nice": false}, "axis": null}}},
 {"data": {"values": [{}]}, "mark": {"type": "text", "font": "Liberation Serif", "fontSize": 19, "color": "#111"}, "encoding": {"x": {"datum": 59.4, "type": "quantitative", "scale": {"domain": [4.2, 70], "zero": false, "nice": false}}, "y": {"datum": 62, "type": "quantitative", "scale": {"domain": [0, 112], "nice": false}}, "text": {"value": "Sample No.(22 )"}}},
 {"data": {"values": [{}]}, "mark": {"type": "rule", "color": "#222", "strokeWidth": 1.5}, "encoding": {"x": {"datum": 4.2, "type": "quantitative", "scale": {"domain": [4.2, 70], "zero": false, "nice": false}}}},
 {"data": {"values": [{}]}, "mark": {"type": "rule", "color": "#222", "strokeWidth": 1.5}, "encoding": {"x": {"datum": 70, "type": "quantitative", "scale": {"domain": [4.2, 70], "zero": false, "nice": false}}}}
]},
{"width": 497, "height": 112, "layer": [
 {"data": {"name": "s21"}, "mark": {"type": "line", "color": "#111", "strokeWidth": 1.6}, "encoding": {"x": {"field": "theta", "type": "quantitative", "scale": {"domain": [4.2, 70], "zero": false, "nice": false}, "axis": null}, "y": {"field": "I", "type": "quantitative", "scale": {"domain": [0, 112], "nice": false}, "axis": null}}},
 {"data": {"values": [{}]}, "mark": {"type": "text", "font": "Liberation Serif", "fontSize": 19, "color": "#111"}, "encoding": {"x": {"datum": 58.2, "type": "quantitative", "scale": {"domain": [4.2, 70], "zero": false, "nice": false}}, "y": {"datum": 60, "type": "quantitative", "scale": {"domain": [0, 112], "nice": false}}, "text": {"value": "Sample No.(21)"}}},
 {"data": {"values": [{}]}, "mark": {"type": "rule", "color": "#222", "strokeWidth": 1.5}, "encoding": {"x": {"datum": 4.2, "type": "quantitative", "scale": {"domain": [4.2, 70], "zero": false, "nice": false}}}},
 {"data": {"values": [{}]}, "mark": {"type": "rule", "color": "#222", "strokeWidth": 1.5}, "encoding": {"x": {"datum": 70, "type": "quantitative", "scale": {"domain": [4.2, 70], "zero": false, "nice": false}}}}
]},
{"width": 497, "height": 122, "layer": [
 {"data": {"name": "s20"}, "mark": {"type": "line", "color": "#111", "strokeWidth": 1.6}, "encoding": {"x": {"field": "theta", "type": "quantitative", "scale": {"domain": [4.2, 70], "zero": false, "nice": false}, "axis": null}, "y": {"field": "I", "type": "quantitative", "scale": {"domain": [0, 122], "nice": false}, "axis": null}}},
 {"data": {"values": [{}]}, "mark": {"type": "text", "font": "Liberation Serif", "fontSize": 19, "color": "#111"}, "encoding": {"x": {"datum": 59.3, "type": "quantitative", "scale": {"domain": [4.2, 70], "zero": false, "nice": false}}, "y": {"datum": 62, "type": "quantitative", "scale": {"domain": [0, 122], "nice": false}}, "text": {"value": "Sample No.(20 )"}}},
 {"data": {"values": [{}]}, "mark": {"type": "rule", "color": "#222", "strokeWidth": 1.5}, "encoding": {"x": {"datum": 4.2, "type": "quantitative", "scale": {"domain": [4.2, 70], "zero": false, "nice": false}}}},
 {"data": {"values": [{}]}, "mark": {"type": "rule", "color": "#222", "strokeWidth": 1.5}, "encoding": {"x": {"datum": 70, "type": "quantitative", "scale": {"domain": [4.2, 70], "zero": false, "nice": false}}}}
]},
{"width": 497, "height": 111, "layer": [
 {"data": {"name": "s19"}, "mark": {"type": "line", "color": "#111", "strokeWidth": 1.6}, "encoding": {"x": {"field": "theta", "type": "quantitative", "scale": {"domain": [4.2, 70], "zero": false, "nice": false}, "axis": null}, "y": {"field": "I", "type": "quantitative", "scale": {"domain": [0, 111], "nice": false}, "axis": {"title": "Intensity(a.u)", "domain": false, "ticks": false, "labels": false, "grid": false, "titleFont": "Liberation Serif", "titleFontSize": 22, "titleFontWeight": "bold", "titleColor": "#222", "titleX": -33, "titleY": 104, "titleAngle": -90, "titleAlign": "center", "titleBaseline": "middle"}}}},
 {"data": {"values": [{}]}, "mark": {"type": "text", "font": "Liberation Serif", "fontSize": 19, "color": "#111"}, "encoding": {"x": {"datum": 57.6, "type": "quantitative", "scale": {"domain": [4.2, 70], "zero": false, "nice": false}}, "y": {"datum": 57, "type": "quantitative", "scale": {"domain": [0, 111], "nice": false}}, "text": {"value": "Sample No.(19.)"}}},
 {"data": {"values": [{}]}, "mark": {"type": "rule", "color": "#222", "strokeWidth": 1.5}, "encoding": {"x": {"datum": 4.2, "type": "quantitative", "scale": {"domain": [4.2, 70], "zero": false, "nice": false}}}},
 {"data": {"values": [{}]}, "mark": {"type": "rule", "color": "#222", "strokeWidth": 1.5}, "encoding": {"x": {"datum": 70, "type": "quantitative", "scale": {"domain": [4.2, 70], "zero": false, "nice": false}}}}
]},
{"width": 497, "height": 113, "layer": [
 {"data": {"name": "s18"}, "mark": {"type": "line", "color": "#111", "strokeWidth": 1.8}, "encoding": {"x": {"field": "theta", "type": "quantitative", "scale": {"domain": [4.2, 70], "zero": false, "nice": false}, "axis": null}, "y": {"field": "I", "type": "quantitative", "scale": {"domain": [0, 113], "nice": false}, "axis": null}}},
 {"data": {"values": [{}]}, "mark": {"type": "text", "font": "Liberation Serif", "fontSize": 19, "color": "#111"}, "encoding": {"x": {"datum": 58.7, "type": "quantitative", "scale": {"domain": [4.2, 70], "zero": false, "nice": false}}, "y": {"datum": 64, "type": "quantitative", "scale": {"domain": [0, 113], "nice": false}}, "text": {"value": "Sample No.(18)"}}},
 {"data": {"values": [{}]}, "mark": {"type": "rule", "color": "#222", "strokeWidth": 1.5}, "encoding": {"x": {"datum": 4.2, "type": "quantitative", "scale": {"domain": [4.2, 70], "zero": false, "nice": false}}}},
 {"data": {"values": [{}]}, "mark": {"type": "rule", "color": "#222", "strokeWidth": 1.5}, "encoding": {"x": {"datum": 70, "type": "quantitative", "scale": {"domain": [4.2, 70], "zero": false, "nice": false}}}}
]},
{"width": 497, "height": 154, "layer": [
 {"data": {"name": "s17"}, "mark": {"type": "line", "color": "#111", "strokeWidth": 1.6}, "encoding": {"x": {"field": "theta", "type": "quantitative", "scale": {"domain": [4.2, 70], "zero": false, "nice": false}, "axis": null}, "y": {"field": "I", "type": "quantitative", "scale": {"domain": [0, 154], "nice": false}, "axis": null}}},
 {"data": {"values": [{}]}, "mark": {"type": "text", "font": "Liberation Serif", "fontSize": 19, "color": "#111"}, "encoding": {"x": {"datum": 58.7, "type": "quantitative", "scale": {"domain": [4.2, 70], "zero": false, "nice": false}}, "y": {"datum": 83, "type": "quantitative", "scale": {"domain": [0, 154], "nice": false}}, "text": {"value": "Sample No.(17.)"}}},
 {"data": {"values": [{}]}, "mark": {"type": "rule", "color": "#222", "strokeWidth": 1.5}, "encoding": {"x": {"datum": 4.2, "type": "quantitative", "scale": {"domain": [4.2, 70], "zero": false, "nice": false}}}},
 {"data": {"values": [{}]}, "mark": {"type": "rule", "color": "#222", "strokeWidth": 1.5}, "encoding": {"x": {"datum": 70, "type": "quantitative", "scale": {"domain": [4.2, 70], "zero": false, "nice": false}}}}
]},
{"width": 497, "height": 165, "layer": [
 {"data": {"name": "s16"}, "mark": {"type": "line", "color": "#111", "strokeWidth": 1.4}, "encoding": {"x": {"field": "theta", "type": "quantitative", "scale": {"domain": [4.2, 70], "zero": false, "nice": false}, "axis": null}, "y": {"field": "I", "type": "quantitative", "scale": {"domain": [0, 165], "nice": false}, "axis": null}}},
 {"data": {"values": [{}]}, "mark": {"type": "text", "font": "Liberation Serif", "fontSize": 19, "color": "#111"}, "encoding": {"x": {"datum": 58.6, "type": "quantitative", "scale": {"domain": [4.2, 70], "zero": false, "nice": false}}, "y": {"datum": 70, "type": "quantitative", "scale": {"domain": [0, 165], "nice": false}}, "text": {"value": "Sample No.(16 )"}}},
 {"data": {"values": [{}]}, "mark": {"type": "rule", "color": "#222", "strokeWidth": 1.5}, "encoding": {"x": {"datum": 4.2, "type": "quantitative", "scale": {"domain": [4.2, 70], "zero": false, "nice": false}}}},
 {"data": {"values": [{}]}, "mark": {"type": "rule", "color": "#222", "strokeWidth": 1.5}, "encoding": {"x": {"datum": 70, "type": "quantitative", "scale": {"domain": [4.2, 70], "zero": false, "nice": false}}}}
]},
{"width": 497, "height": 150, "layer": [
 {"data": {"name": "s15"}, "mark": {"type": "line", "color": "#111", "strokeWidth": 1.6}, "encoding": {"x": {"field": "theta", "type": "quantitative", "scale": {"domain": [4.2, 70], "zero": false, "nice": false}, "axis": null}, "y": {"field": "I", "type": "quantitative", "scale": {"domain": [0, 150], "nice": false}, "axis": null}}},
 {"data": {"values": [{}]}, "mark": {"type": "text", "font": "Liberation Serif", "fontSize": 19, "color": "#111"}, "encoding": {"x": {"datum": 58.4, "type": "quantitative", "scale": {"domain": [4.2, 70], "zero": false, "nice": false}}, "y": {"datum": 66, "type": "quantitative", "scale": {"domain": [0, 150], "nice": false}}, "text": {"value": "Sample No.(15)"}}},
 {"data": {"values": [{}]}, "mark": {"type": "rule", "color": "#222", "strokeWidth": 1.5}, "encoding": {"x": {"datum": 4.2, "type": "quantitative", "scale": {"domain": [4.2, 70], "zero": false, "nice": false}}}},
 {"data": {"values": [{}]}, "mark": {"type": "rule", "color": "#222", "strokeWidth": 1.5}, "encoding": {"x": {"datum": 70, "type": "quantitative", "scale": {"domain": [4.2, 70], "zero": false, "nice": false}}}}
]},
{"width": 497, "height": 97, "layer": [
 {"data": {"name": "s14"}, "mark": {"type": "line", "color": "#111", "strokeWidth": 1.6}, "encoding": {"x": {"field": "theta", "type": "quantitative", "scale": {"domain": [4.2, 70], "zero": false, "nice": false}, "axis": null}, "y": {"field": "I", "type": "quantitative", "scale": {"domain": [0, 97], "nice": false}, "axis": null}}},
 {"data": {"values": [{}]}, "mark": {"type": "text", "font": "Liberation Serif", "fontSize": 19, "color": "#111"}, "encoding": {"x": {"datum": 59.3, "type": "quantitative", "scale": {"domain": [4.2, 70], "zero": false, "nice": false}}, "y": {"datum": 52, "type": "quantitative", "scale": {"domain": [0, 97], "nice": false}}, "text": {"value": "Sample No.(14 )"}}},
 {"data": {"values": [{}]}, "mark": {"type": "rule", "color": "#222", "strokeWidth": 1.5}, "encoding": {"x": {"datum": 4.2, "type": "quantitative", "scale": {"domain": [4.2, 70], "zero": false, "nice": false}}}},
 {"data": {"values": [{}]}, "mark": {"type": "rule", "color": "#222", "strokeWidth": 1.5}, "encoding": {"x": {"datum": 70, "type": "quantitative", "scale": {"domain": [4.2, 70], "zero": false, "nice": false}}}}
]},
{"width": 497, "height": 96, "layer": [
 {"data": {"name": "s13"}, "mark": {"type": "line", "color": "#111", "strokeWidth": 1.6}, "encoding": {"x": {"field": "theta", "type": "quantitative", "scale": {"domain": [4.2, 70], "zero": false, "nice": false}, "axis": null}, "y": {"field": "I", "type": "quantitative", "scale": {"domain": [0, 96], "nice": false}, "axis": null}}},
 {"data": {"values": [{}]}, "mark": {"type": "text", "font": "Liberation Serif", "fontSize": 19, "color": "#111"}, "encoding": {"x": {"datum": 59.0, "type": "quantitative", "scale": {"domain": [4.2, 70], "zero": false, "nice": false}}, "y": {"datum": 60, "type": "quantitative", "scale": {"domain": [0, 96], "nice": false}}, "text": {"value": "Sample No.(13 )"}}},
 {"data": {"values": [{}]}, "mark": {"type": "rule", "color": "#222", "strokeWidth": 1.5}, "encoding": {"x": {"datum": 4.2, "type": "quantitative", "scale": {"domain": [4.2, 70], "zero": false, "nice": false}}}},
 {"data": {"values": [{}]}, "mark": {"type": "rule", "color": "#222", "strokeWidth": 1.5}, "encoding": {"x": {"datum": 70, "type": "quantitative", "scale": {"domain": [4.2, 70], "zero": false, "nice": false}}}}
]},
{"width": 497, "height": 127, "layer": [
 {"data": {"name": "s12"}, "mark": {"type": "line", "color": "#111", "strokeWidth": 1.6}, "encoding": {"x": {"field": "theta", "type": "quantitative", "scale": {"domain": [4.2, 70], "zero": false, "nice": false}, "axis": {"title": "2θ (deg.)", "values": [10, 20, 30, 40, 50, 60, 70], "grid": false, "domainColor": "#222", "domainWidth": 1.5, "tickColor": "#222", "tickWidth": 1.2, "tickSize": 5, "labelFont": "Liberation Sans", "labelFontSize": 13, "labelColor": "#222", "labelPadding": 8, "labelFlush": true, "titleFont": "Liberation Sans", "titleFontSize": 19, "titleFontWeight": "bold", "titleColor": "#111", "titleX": 232, "titleY": 52, "titleAlign": "center", "titleBaseline": "middle"}}, "y": {"field": "I", "type": "quantitative", "scale": {"domain": [0, 127], "nice": false}, "axis": null}}},
 {"data": {"values": [{}]}, "mark": {"type": "text", "font": "Liberation Serif", "fontSize": 19, "color": "#111"}, "encoding": {"x": {"datum": 59.8, "type": "quantitative", "scale": {"domain": [4.2, 70], "zero": false, "nice": false}}, "y": {"datum": 75, "type": "quantitative", "scale": {"domain": [0, 127], "nice": false}}, "text": {"value": "Sample No.(12)"}}},
 {"data": {"values": [{}]}, "mark": {"type": "rule", "color": "#222", "strokeWidth": 1.5}, "encoding": {"x": {"datum": 4.2, "type": "quantitative", "scale": {"domain": [4.2, 70], "zero": false, "nice": false}}}},
 {"data": {"values": [{}]}, "mark": {"type": "rule", "color": "#222", "strokeWidth": 1.5}, "encoding": {"x": {"datum": 70, "type": "quantitative", "scale": {"domain": [4.2, 70], "zero": false, "nice": false}}}}
]}
]
}
